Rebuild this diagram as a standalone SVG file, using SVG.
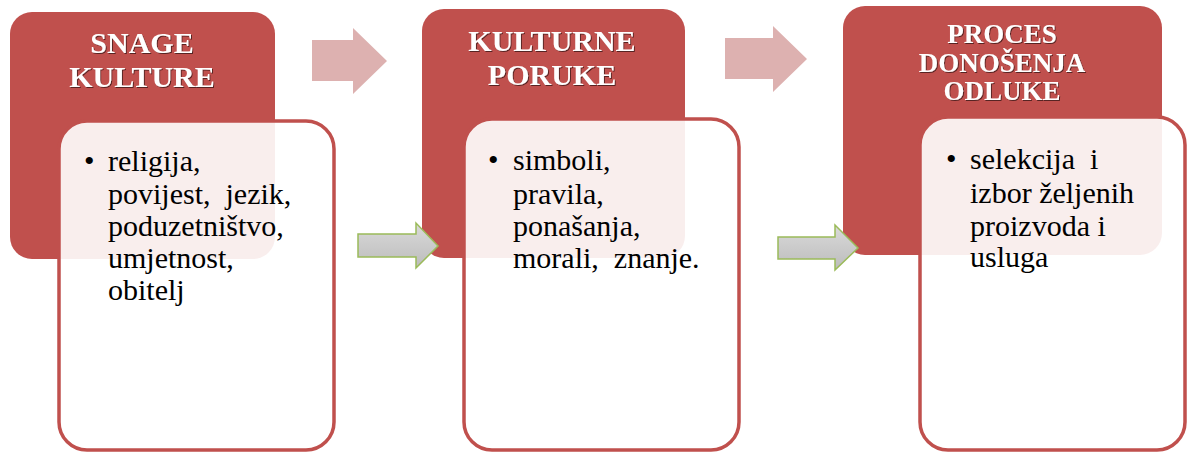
<svg xmlns="http://www.w3.org/2000/svg" width="1190" height="454" viewBox="0 0 1190 454">
<defs>
<linearGradient id="gray" x1="0" y1="0" x2="0" y2="1">
<stop offset="0" stop-color="#dadada"/>
<stop offset="1" stop-color="#bcbcbc"/>
</linearGradient>
<filter id="sh" x="-10%" y="-20%" width="120%" height="140%">
<feDropShadow dx="1" dy="1" stdDeviation="0.7" flood-color="#000" flood-opacity="0.55"/>
</filter>
<style>
.red{fill:#C0504D}
.card{fill:#ffffff;fill-opacity:0.9;stroke:#C0504D;stroke-width:3.5}
.title{font-weight:bold;font-size:30px;fill:#ffffff;text-anchor:middle}
.t3{font-size:27px}
.body{font-size:30px;fill:#000000;white-space:pre}
.pink{fill:#DDB1B0}
.green{fill:url(#gray);stroke:#9BBB59;stroke-width:1.5}
</style>
</defs>
<rect width="1190" height="454" fill="#ffffff"/>

<g id="node1" font-family="Liberation Serif, serif">
<rect class="red" x="10" y="12" width="265" height="247" rx="22"/>
<text class="title" filter="url(#sh)"><tspan x="142" y="53">SNAGE</tspan><tspan x="142" y="87">KULTURE</tspan></text>
</g>
<g id="node2" font-family="Liberation Serif, serif">
<rect class="red" x="422" y="9" width="263" height="249" rx="22"/>
<text class="title" filter="url(#sh)"><tspan x="552" y="51">KULTURNE</tspan><tspan x="552" y="85">PORUKE</tspan></text>
</g>
<g id="node3" font-family="Liberation Serif, serif">
<rect class="red" x="843" y="6" width="319" height="249" rx="22"/>
<text class="title t3" filter="url(#sh)"><tspan x="1002" y="43">PROCES</tspan><tspan x="1002" y="72">DONOŠENJA</tspan><tspan x="1002" y="100">ODLUKE</tspan></text>
</g>

<g id="card1" font-family="Liberation Serif, serif">
<rect class="card" x="59" y="121" width="275" height="329" rx="28"/>
<text class="body" x="84" y="171">•</text>
<text class="body"><tspan x="108" y="171">religija,</tspan><tspan x="108" y="204">povijest,  jezik,</tspan><tspan x="108" y="236">poduzetništvo,</tspan><tspan x="108" y="268">umjetnost,</tspan><tspan x="108" y="300">obitelj</tspan></text>
</g>
<g id="card2" font-family="Liberation Serif, serif">
<rect class="card" x="464" y="119" width="275" height="331" rx="28"/>
<text class="body" x="488" y="170">•</text>
<text class="body"><tspan x="513" y="170">simboli,</tspan><tspan x="513" y="204">pravila,</tspan><tspan x="513" y="236">ponašanja,</tspan><tspan x="513" y="268">morali,  znanje.</tspan></text>
</g>
<g id="card3" font-family="Liberation Serif, serif">
<rect class="card" x="920" y="117" width="265" height="333" rx="28"/>
<text class="body" x="946" y="169">•</text>
<text class="body"><tspan x="970" y="169">selekcija  i</tspan><tspan x="970" y="203">izbor željenih</tspan><tspan x="970" y="236">proizvoda i</tspan><tspan x="970" y="267">usluga</tspan></text>
</g>

<g id="connectors">
<polygon class="pink" points="312,40 353,40 353,28 387,61 353,94 353,81 312,81"/>
<polygon class="pink" points="725,38 773,38 773,26 807,59 773,92 773,79 725,79"/>
<polygon class="green" points="358,234 416,234 416,223 438,246 416,268 416,257 358,257"/>
<polygon class="green" points="778,237 835,237 835,225 858,248 835,270 835,259 778,259"/>
</g>
</svg>
